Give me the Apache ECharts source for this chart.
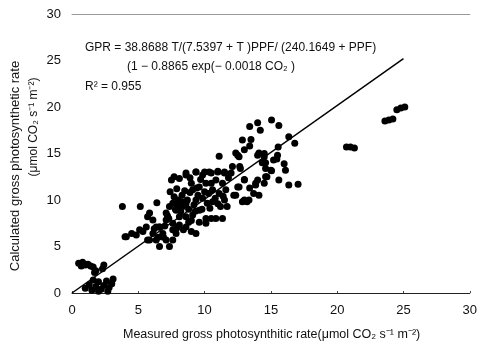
<!DOCTYPE html>
<html><head><meta charset="utf-8">
<script src="https://cdn.jsdelivr.net/npm/echarts@6/dist/echarts.min.js"></script>
<style>html,body{margin:0;padding:0;background:#fff}#c{width:480px;height:347px}</style>
</head><body><div id="c"></div>
<script>
// Tick labels
const xTicks = [0, 5, 10, 15, 20, 25, 30];
const yTicks = [0, 5, 10, 15, 20, 25, 30];
// Measured (x) values
const measured = [
  // low cluster upper
  0.5,0.8,1.0,1.2,1.4,1.6,1.8,1.7,2.4,2.3,0.7,
  // low cluster lower
  1.0,1.3,1.5,1.8,2.0,2.2,2.4,2.6,2.8,3.0,3.1,1.6,2.7,2.0,
  // isolated left
  3.8,5.15,6.4,4.0,
  // 4-6 band
  4.1,4.5,4.85,5.1,5.35,5.6,5.7,5.85,6.1,6.35,5.7,5.85,6.1,6.35,6.6,6.85,6.6,7.35,7.1,7.6,7.85,
  // main mass
  7.5,7.7,8.1,8.6,9.35,9.85,10.35,11.0,11.5,10.1,10.85,11.35,9.0,9.1,9.6,10.6,11.1,11.6,11.5,11.2,11.7,
  7.7,7.6,7.35,7.85,8.35,8.7,9.35,9.85,10.2,10.6,9.6,9.1,8.6,8.1,7.1,7.1,7.6,8.1,8.6,9.0,9.35,
  10.1,10.5,10.85,11.35,10.1,6.6,
  8.0,8.3,8.8,9.2,9.5,9.8,10.3,10.5,10.8,8.5,7.9,8.2,9.0,9.6,10.0,7.3,7.0,7.6,8.4,8.8,9.3,10.4,11.0,11.4,11.8,12.0,8.9,9.7,7.4,8.0,
  8.6,9.35,10.0,10.5,11.0,11.5,
  6.9,7.2,7.8,8.3,8.9,6.2,6.5,7.9,8.6,9.4,
  // right of mass
  12.65,11.1,12.5,13.0,13.4,12.2,12.85,13.2,13.7,13.85,
  // upper right cloud
  15.05,15.6,14.0,13.4,14.2,12.85,13.5,13.4,13.0,12.5,16.35,16.8,15.55,14.0,14.5,14.35,14.6,15.2,14.6,16.0,16.1,15.05,12.7,14.6,15.6,16.35,17.05,13.0,14.0,13.85,14.5,12.6,12.35,13.0,13.35,14.1,
  12.35,12.6,12.1,14.1,14.5,15.5,15.45,15.0,14.7,
  // far right clusters
  20.7,21.0,21.3,23.6,23.9,24.2,24.5,24.8,25.1
];
// Calculated (y) values
const calculated = [
  3.2,3.3,3.0,3.1,2.9,2.8,2.4,2.2,3.0,2.6,2.9,
  0.5,0.9,0.3,0.7,1.2,0.4,0.8,1.3,0.6,1.0,1.5,1.4,0.2,0.2,
  9.3,9.3,9.7,6.05,
  6.05,6.4,6.25,6.8,6.6,7.1,8.2,8.6,7.85,7.1,5.7,5.7,6.4,5.7,5.0,6.4,7.1,5.0,5.7,5.7,6.4,
  12.15,12.5,12.3,12.7,13.0,12.7,13.0,13.0,13.0,11.8,12.15,11.8,11.8,11.1,11.4,11.1,10.7,11.1,10.0,9.3,9.3,
  10.35,9.65,9.3,8.9,9.3,10.0,10.0,10.2,9.65,9.8,8.9,8.4,8.2,8.2,8.6,7.85,7.5,7.3,7.1,6.6,6.4,
  8.0,8.0,8.0,8.0,7.5,7.1,
  9.5,10.5,9.0,9.5,10.5,9.0,10.7,11.8,10.2,11.0,11.2,8.8,7.8,7.6,10.9,8.0,7.2,6.8,6.8,7.6,8.8,9.1,9.6,10.4,12.4,12.9,12.4,12.2,10.9,10.0,
  12.9,13.0,13.0,12.9,13.1,12.9,
  6.0,8.3,9.0,9.8,10.8,6.9,6.0,7.0,9.6,11.3,
  13.6,14.7,11.4,12.2,11.3,10.5,9.8,9.8,10.7,11.8,
  18.6,18.0,18.3,17.9,17.5,16.45,16.5,15.8,15.4,14.8,16.8,16.1,15.7,14.8,15.0,14.0,14.0,14.3,13.4,13.9,13.2,13.15,13.4,12.5,12.15,11.6,11.7,12.15,12.15,11.6,11.8,11.4,10.5,10.0,10.0,10.5,
  15.05,14.65,13.6,15.05,14.65,14.8,14.4,13.2,12.5,
  15.7,15.7,15.6,18.5,18.6,18.7,19.7,19.9,20.0
];
// Regression line end points
const fitX = [0, 25];
const fitY = [0, 25.2];

const pts = measured.map((v, i) => [v, calculated[i]]);
const fit = fitX.map((v, i) => [v, fitY[i]]);

const chart = echarts.init(document.getElementById('c'), null, {renderer: 'canvas'});
const font = 'Liberation Sans, Arial, sans-serif';
chart.setOption({
  animation: false,
  backgroundColor: '#fff',
  grid: {left: 72, right: 8, top: 14, bottom: 54},
  xAxis: [{
    type: 'value', min: 0, max: 30, interval: 5,
    axisLine: {show: true, lineStyle: {color: '#222', width: 1}},
    axisTick: {show: true, length: 2, inside: true, lineStyle: {color: '#444'}},
    splitLine: {show: false},
    axisLabel: {color: '#111', fontSize: 13, fontFamily: font, margin: 11,
      formatter: v => xTicks.includes(v) ? String(v) : ''}
  }, {
    type: 'value', min: 0, max: 30, position: 'top',
    axisLine: {show: true, lineStyle: {color: '#999', width: 1}},
    axisTick: {show: false}, axisLabel: {show: false}, splitLine: {show: false}
  }],
  yAxis: {
    type: 'value', min: 0, max: 30, interval: 5,
    axisLine: {show: false},
    axisTick: {show: false},
    splitLine: {show: false},
    axisLabel: {color: '#111', fontSize: 13, fontFamily: font, margin: 11,
      formatter: v => yTicks.includes(v) ? String(v) : ''}
  },
  series: [{
    type: 'scatter', data: pts, symbol: 'circle', symbolSize: 7,
    itemStyle: {color: '#000', opacity: 1}
  }, {
    type: 'line', data: fit, symbol: 'none',
    lineStyle: {color: '#000', width: 1.5}
  }],
  graphic: [
    {type: 'text', left: 85, top: 42, style: {text: 'GPR = 38.8688 T/(7.5397 + T )PPF/ (240.1649 + PPF)', fill: '#111', font: '12px ' + font}},
    {type: 'text', left: 127, top: 61, style: {text: '(1 − 0.8865 exp(− 0.0018 CO₂ )', fill: '#111', font: '12px ' + font}},
    {type: 'text', left: 85, top: 81, style: {text: 'R² = 0.955', fill: '#111', font: '12px ' + font}},
    {type: 'text', x: 123, y: 328, style: {text: 'Measured gross photosynthitic rate(μmol CO₂ s⁻¹ m⁻²)', fill: '#111', font: '12.5px ' + font}},
    {type: 'text', x: 15, y: 166, rotation: Math.PI/2, style: {text: 'Calculated gross photosynthetic rate', fill: '#111', font: '13px ' + font, align: 'center', verticalAlign: 'middle'}},
    {type: 'text', x: 34, y: 127, rotation: Math.PI/2, style: {text: '(μmol CO₂ s⁻¹ m⁻²)', fill: '#111', font: '12px ' + font, align: 'center', verticalAlign: 'middle'}}
  ]
});
</script></body></html>
